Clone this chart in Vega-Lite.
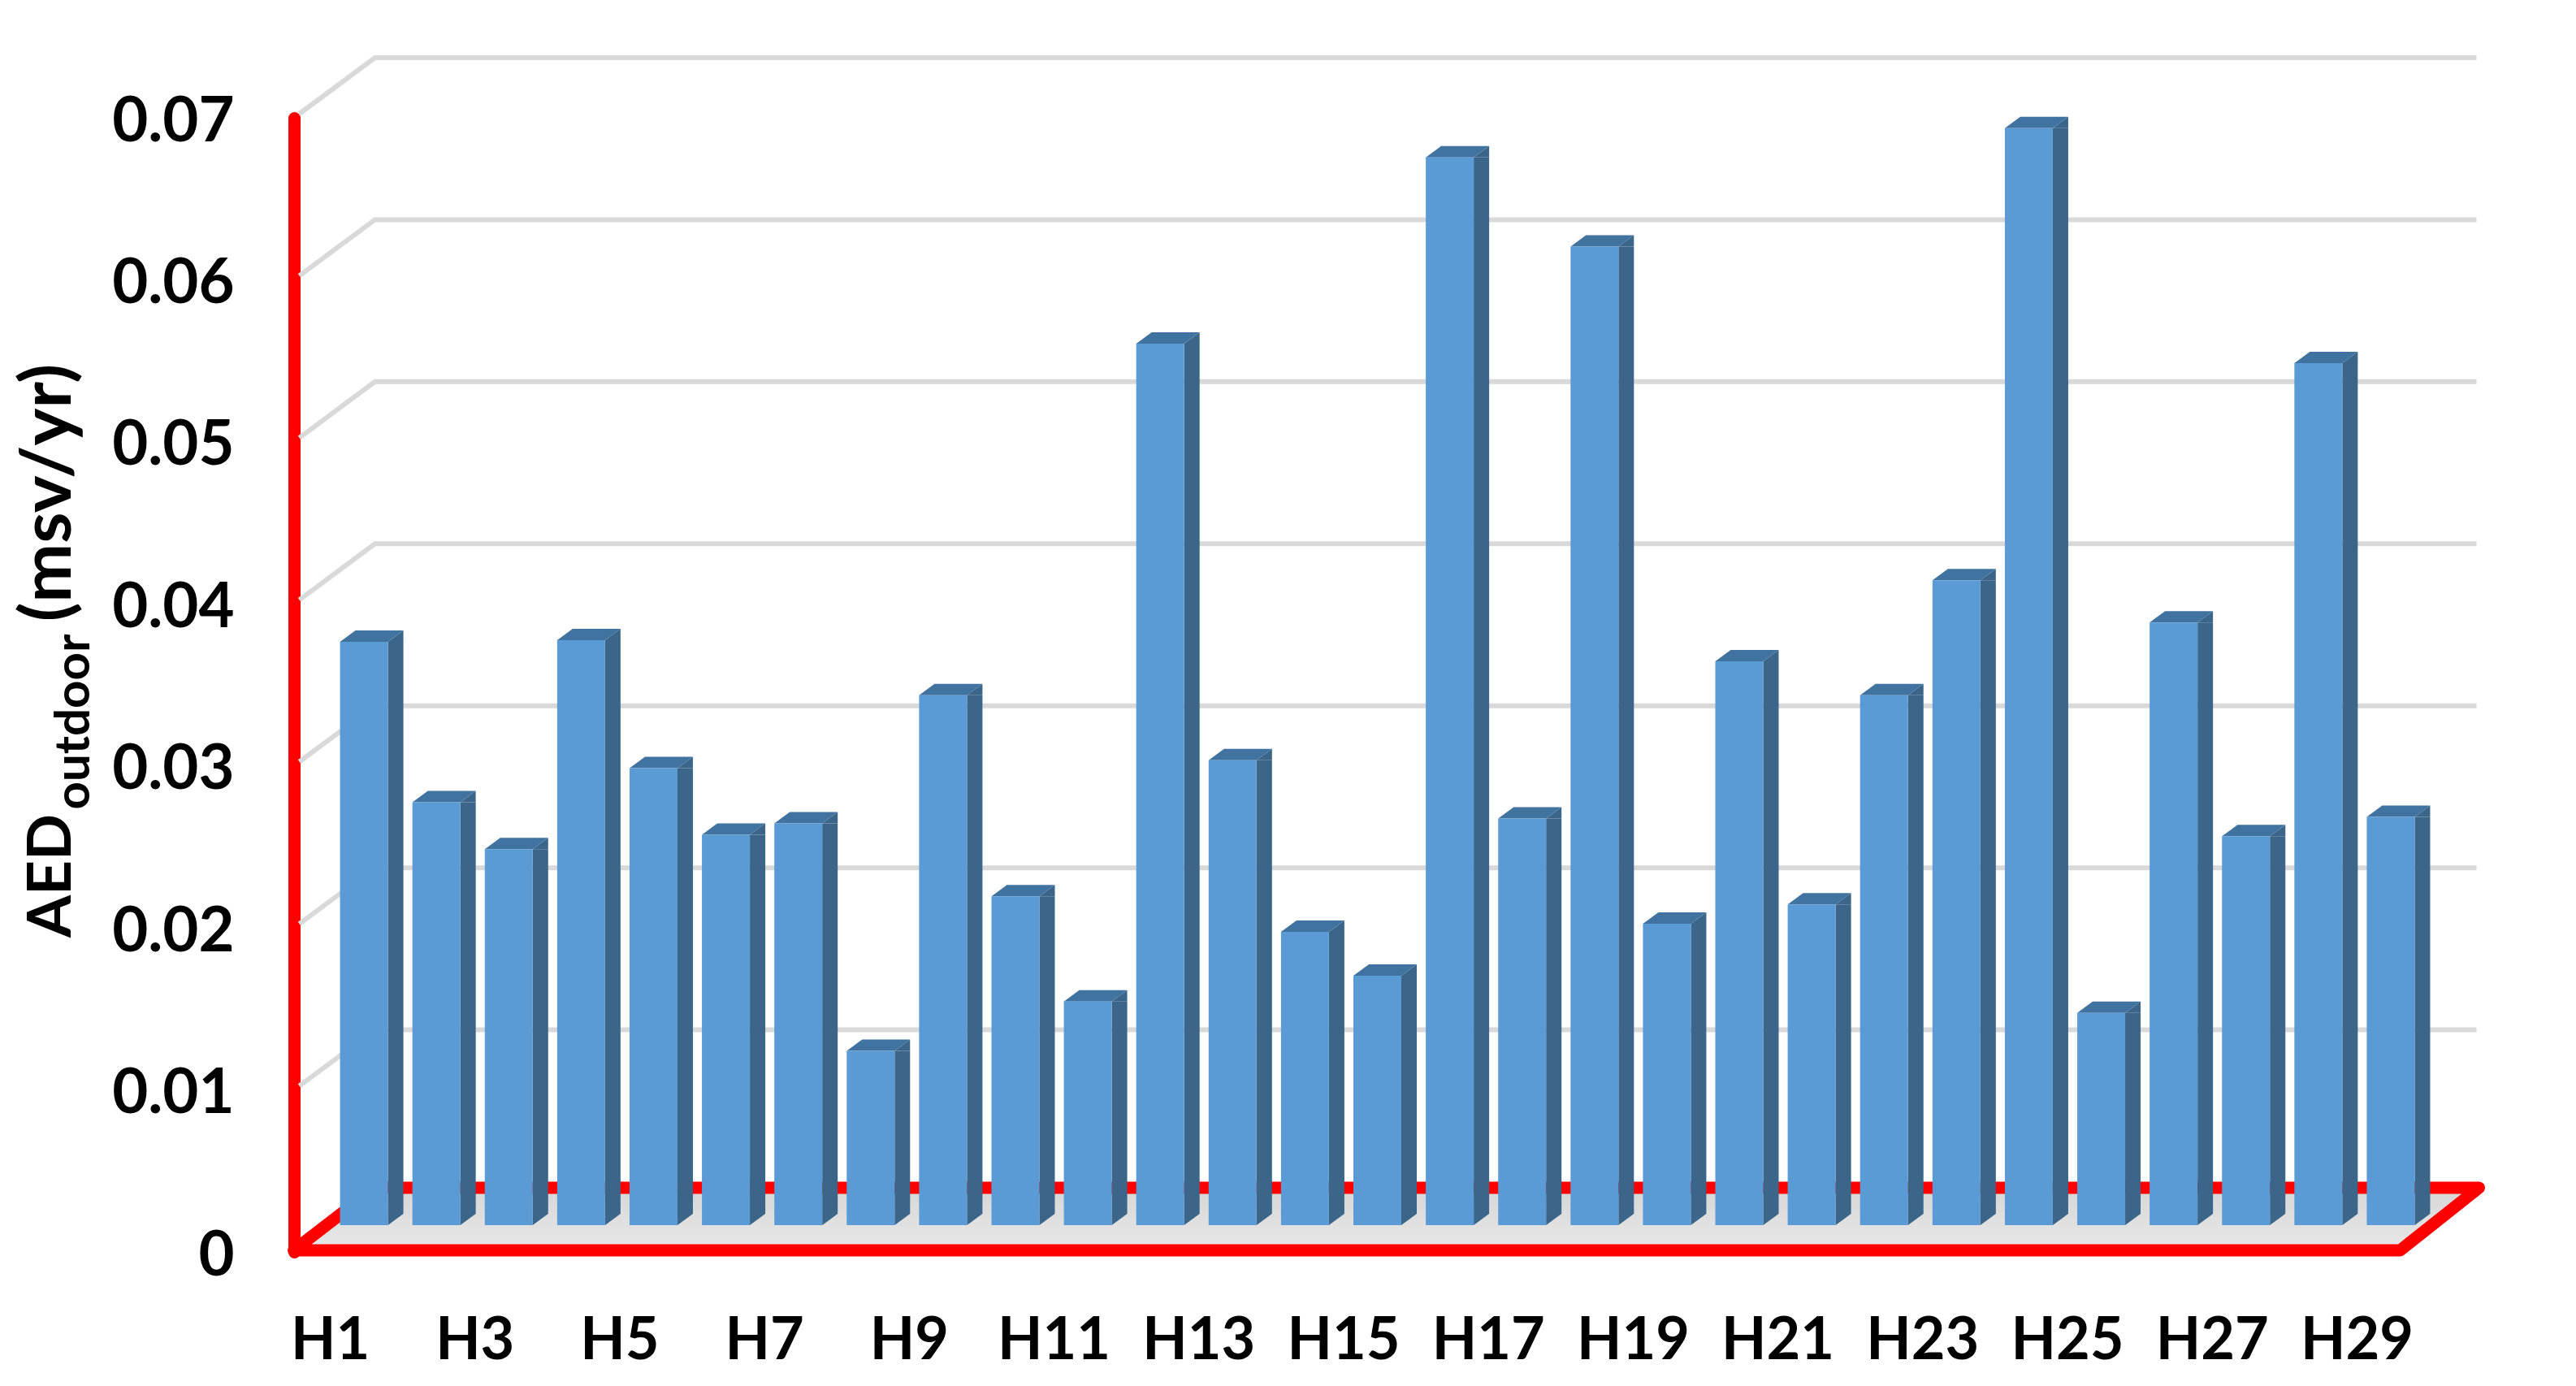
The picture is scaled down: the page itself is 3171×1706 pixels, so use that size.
{"$schema":"https://vega.github.io/schema/vega-lite/v6.json","autosize":{"type":"none"},"width":2584,"height":1396,"padding":{"left":362,"top":145,"right":225,"bottom":165},"background":"white","config":{"view":{"stroke":null},"font":"Lato"},"data":{"values":[{"h":"H1","v":0.036},{"h":"H2","v":0.0261},{"h":"H3","v":0.0232},{"h":"H4","v":0.0361},{"h":"H5","v":0.0282},{"h":"H6","v":0.0241},{"h":"H7","v":0.0248},{"h":"H8","v":0.01075},{"h":"H9","v":0.0327},{"h":"H10","v":0.0203},{"h":"H11","v":0.0138},{"h":"H12","v":0.0544},{"h":"H13","v":0.0287},{"h":"H14","v":0.0181},{"h":"H15","v":0.0154},{"h":"H16","v":0.0659},{"h":"H17","v":0.0251},{"h":"H18","v":0.0604},{"h":"H19","v":0.0186},{"h":"H20","v":0.0348},{"h":"H21","v":0.0198},{"h":"H22","v":0.0327},{"h":"H23","v":0.0398},{"h":"H24","v":0.0677},{"h":"H25","v":0.0131},{"h":"H26","v":0.0372},{"h":"H27","v":0.024},{"h":"H28","v":0.0532},{"h":"H29","v":0.0252}]},"encoding":{"x":{"field":"h","type":"nominal","title":null,"scale":{"type":"band","paddingInner":0,"paddingOuter":0,"domain":["H1","H2","H3","H4","H5","H6","H7","H8","H9","H10","H11","H12","H13","H14","H15","H16","H17","H18","H19","H20","H21","H22","H23","H24","H25","H26","H27","H28","H29"]},"axis":{"values":["H1","H3","H5","H7","H9","H11","H13","H15","H17","H19","H21","H23","H25","H27","H29"],"labelAngle":0,"labelFont":"Lato","labelFontWeight":"bold","labelFontSize":72,"labelColor":"#000000","labelPadding":74,"labelOverlap":false,"labelBound":false,"labelFlush":false,"ticks":false,"domain":false,"grid":false}},"y":{"field":"v","type":"quantitative","title":null,"scale":{"domain":[0,0.07],"nice":false,"zero":false},"axis":{"values":[0,0.01,0.02,0.03,0.04,0.05,0.06,0.07],"format":".2~f","labelFont":"Lato","labelFontWeight":"bold","labelFontSize":76,"labelColor":"#000000","labelPadding":74,"labelOffset":5,"labelOverlap":false,"labelBound":false,"ticks":false,"grid":false,"domain":true,"domainColor":"#FF0000","domainWidth":15,"domainCap":"round"}}},"layer":[{"transform":[{"filter":"datum.h==='H1'"}],"mark":{"type":"point","shape":"M-45,-2 L2548,-2 L2645,-79 L55,-79 Z","size":4,"filled":true,"fill":{"gradient":"linear","x1":0,"y1":0,"x2":0,"y2":1,"stops":[{"offset":0,"color":"#D6D6D6"},{"offset":1,"color":"#E8E8E8"}]},"stroke":"#FF0000","strokeWidth":15,"strokeJoin":"round","opacity":1},"encoding":{"y":{"datum":0}}},{"data":{"values":[{"t":0.01},{"t":0.02},{"t":0.03},{"t":0.04},{"t":0.05},{"t":0.06},{"t":0.07}]},"mark":{"type":"point","shape":"M-38,-5 L55,-74 L2642,-74","size":4,"filled":false,"fill":null,"stroke":"#D9D9D9","strokeWidth":6,"opacity":1},"encoding":{"x":{"datum":"H1"},"y":{"field":"t","type":"quantitative"}}},{"mark":{"type":"bar","width":19,"xOffset":80.5,"yOffset":-33,"y2Offset":-47,"color":"#3B6589"},"encoding":{"y2":{"datum":0}}},{"mark":{"type":"point","shape":"M71,-33 L90,-47 L90,-33 Z","size":4,"filled":true,"fill":"#3B6589","stroke":null,"opacity":1}},{"mark":{"type":"point","shape":"M71,-33 L90,-47 L71,-47 Z","size":4,"filled":true,"fill":"#3B6589","stroke":null,"opacity":1},"encoding":{"y":{"datum":0}}},{"mark":{"type":"point","shape":"M12,-33 L71,-33 L90,-47 L31,-47 Z","size":4,"filled":true,"fill":"#4173A0","stroke":null,"opacity":1}},{"mark":{"type":"bar","width":59,"xOffset":41.5,"yOffset":-33,"y2Offset":-33,"color":"#5B9BD5"},"encoding":{"y2":{"datum":0}}},{"transform":[{"filter":"datum.h==='H1'"}],"mark":{"type":"text","text":"AED","xOffset":-320,"angle":270,"align":"left","baseline":"alphabetic","font":"Lato","fontWeight":"bold","fontSize":75,"color":"#000000"},"encoding":{"y":{"datum":0.0194}}},{"transform":[{"filter":"datum.h==='H1'"}],"mark":{"type":"text","text":"outdoor","xOffset":-297,"angle":270,"align":"left","baseline":"alphabetic","font":"Lato","fontWeight":"bold","fontSize":60,"color":"#000000"},"encoding":{"y":{"datum":0.0273}}},{"transform":[{"filter":"datum.h==='H1'"}],"mark":{"type":"text","text":"(msv/yr)","xOffset":-320,"angle":270,"align":"left","baseline":"alphabetic","font":"Lato","fontWeight":"bold","fontSize":87,"color":"#000000"},"encoding":{"y":{"datum":0.0389}}}]}
